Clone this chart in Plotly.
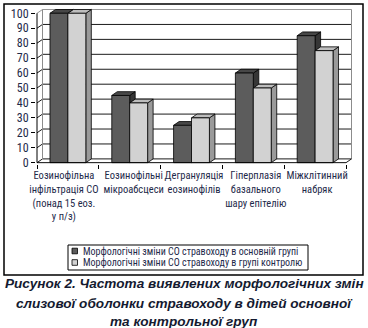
import plotly.graph_objects as go

# ---------------- data ----------------
categories = [
    "Еозинофільна<br>інфільтрація СО<br>(понад 15 еоз.<br>у п/з)",
    "Еозинофільні<br>мікроабсцеси",
    "Дегрануляція<br>еозинофілів",
    "Гіперплазія<br>базального<br>шару епітелію",
    "Міжклітинний<br>набряк",
]
main_group = [100, 45, 25, 60, 85]
control_group = [100, 40, 30, 50, 75]
series_names = [
    "Морфологічні зміни СО стравоходу в основній групі",
    "Морфологічні зміни СО стравоходу в групі контролю",
]
y_ticks = [0, 10, 20, 30, 40, 50, 60, 70, 80, 90, 100]
caption_lines = [
    "Рисунок 2. Частота виявлених морфологічних змін",
    "слизової оболонки стравоходу в дітей основної",
    "та контрольної груп",
]

# ---------------- geometry (pixels) ----------------
W, H = 368, 328
FX0, FX1 = 37.0, 346.0      # front plot x extent (category range -0.5..n-0.5)
FY0, FY1 = 162.7, 13.3      # front y for 0 and 100
DX_PX, DY_PX = 5.5, 3.8     # 3-D depth offset
n = len(categories)
pos = list(range(n))
ppx = (FX1 - FX0) / n
ppy = (FY0 - FY1) / 100.0
dx = DX_PX / ppx
dy = DY_PX / ppy

pad_l, pad_b = 1.0, 1.0
ext_r, ext_t = DX_PX + 2.0, DY_PX + 2.0
x_range = [-0.5 - pad_l / ppx, n - 0.5 + ext_r / ppx]
y_range = [-pad_b / ppy, 100 + ext_t / ppy]
x_dom = [(FX0 - pad_l) / W, (FX1 + ext_r) / W]
y_dom = [1 - (FY0 + pad_b) / H, 1 - (FY1 - ext_t) / H]
LABEL_SHIFT_PX = [-4.0, 4.0, 2.5, 2.5, 2.0]   # label placement nudges (layout)

BAR_W = 0.29
colors = {
    "front": ["#5c5c5c", "#d2d2d2"],
    "top": ["#474747", "#bdbdbd"],
    "side": ["#363636", "#9a9a9a"],
}
offsets = [-BAR_W, 0.0]
TXT = "#1e2a4a"
FONT = "Liberation Sans Narrow, Arial Narrow, Roboto Condensed, Liberation Sans, sans-serif"

fig = go.Figure()
for k, vals in enumerate([main_group, control_group]):
    fig.add_trace(go.Bar(
        x=pos, y=vals, name=series_names[k],
        width=BAR_W, offset=offsets[k],
        marker=dict(color=colors["front"][k], line=dict(color="black", width=0.8)),
        hoverinfo="skip", showlegend=False,
    ))

shapes = []
# back wall gridlines with diagonals from the front axis
for t in y_ticks:
    col = "#8c8c8c" if t == 100 else "black"
    shapes.append(dict(
        type="path", xref="x", yref="y", layer="below",
        path=f"M{-0.5},{t} L{-0.5 + dx},{t + dy} L{n - 0.5 + dx},{t + dy}",
        line=dict(color=col, width=0.9),
    ))
# back wall side edges
for xe in [-0.5 + dx, n - 0.5 + dx]:
    shapes.append(dict(type="line", xref="x", yref="y", layer="below",
                       x0=xe, x1=xe, y0=dy, y1=100 + dy,
                       line=dict(color="#8c8c8c", width=1)))
# floor right edge diagonal
shapes.append(dict(type="line", xref="x", yref="y", layer="below",
                   x0=n - 0.5, y0=0, x1=n - 0.5 + dx, y1=dy,
                   line=dict(color="black", width=0.9)))

# 3-D faces of bars
for k, vals in enumerate([main_group, control_group]):
    for c, v in zip(pos, vals):
        x0 = c + offsets[k]
        x1 = x0 + BAR_W
        shapes.append(dict(
            type="path", xref="x", yref="y", layer="between",
            path=f"M{x1},{0} L{x1},{v} L{x1 + dx},{v + dy} L{x1 + dx},{dy} Z",
            fillcolor=colors["side"][k], line=dict(color="black", width=0.8),
        ))
        shapes.append(dict(
            type="path", xref="x", yref="y", layer="between",
            path=f"M{x0},{v} L{x0 + dx},{v + dy} L{x1 + dx},{v + dy} L{x1},{v} Z",
            fillcolor=colors["top"][k], line=dict(color="black", width=0.8),
        ))

# front axis lines
shapes.append(dict(type="line", xref="x", yref="y", layer="above",
                   x0=-0.5, x1=-0.5, y0=0, y1=100, line=dict(color="black", width=1)))
shapes.append(dict(type="line", xref="x", yref="y", layer="above",
                   x0=-0.5, x1=n - 0.5, y0=0, y1=0, line=dict(color="black", width=1)))
# outer frame
shapes.append(dict(type="rect", xref="paper", yref="paper",
                   x0=4 / W, x1=363 / W, y0=1 - 275 / H, y1=1 - 4 / H,
                   line=dict(color="black", width=1.5), layer="above"))

annotations = []

# ---- legend (drawn as a box with keyed swatches) ----
LG_X0, LG_X1, LG_Y0, LG_Y1 = 68, 308, 245, 270
shapes.append(dict(type="rect", xref="paper", yref="paper",
                   x0=LG_X0 / W, x1=LG_X1 / W, y0=1 - LG_Y1 / H, y1=1 - LG_Y0 / H,
                   line=dict(color="black", width=1), fillcolor="white", layer="above"))
row_y = [251.0, 262.5]
for k, name in enumerate(series_names):
    ry = row_y[k]
    shapes.append(dict(type="rect", xref="paper", yref="paper",
                       x0=72 / W, x1=77.5 / W, y0=1 - (ry + 2.8) / H, y1=1 - (ry - 2.8) / H,
                       line=dict(color="black", width=0.8), fillcolor=colors["front"][k],
                       layer="above"))
    annotations.append(dict(
        text=name, xref="paper", yref="paper", x=80.5 / W, y=1 - ry / H,
        xanchor="left", yanchor="middle", showarrow=False,
        font=dict(family=FONT, size=10, color=TXT),
    ))

# ---- caption ----
cap_y = [283.5, 303, 321.5]
for line, py in zip(caption_lines, cap_y):
    annotations.append(dict(
        text=f"<b><i>{line}</i></b>", xref="paper", yref="paper",
        x=0.5, y=1 - py / H, xanchor="center", yanchor="middle", showarrow=False,
        font=dict(family="Liberation Sans, Arial, sans-serif", size=13.6, color="#141a30"),
    ))

fig.update_layout(
    width=W, height=H,
    margin=dict(l=0, r=0, t=0, b=0, autoexpand=False),
    paper_bgcolor="white", plot_bgcolor="rgba(0,0,0,0)",
    barmode="overlay", showlegend=False,
    shapes=shapes, annotations=annotations,
    xaxis=dict(
        domain=x_dom, range=x_range,
        tickvals=[p + s / ppx for p, s in zip(pos, LABEL_SHIFT_PX)],
        ticktext=categories,
        ticks="", showgrid=False, zeroline=False, showline=False,
        tickangle=0, automargin=False, ticklabelstandoff=4,
        tickfont=dict(family=FONT, size=10.5, color=TXT),
        minor=dict(tickvals=[p - 0.5 for p in pos] + [n - 0.5], ticks="outside",
                   ticklen=4, tickcolor="black", tickwidth=1, showgrid=False),
        fixedrange=True,
    ),
    yaxis=dict(
        domain=y_dom, range=y_range, tickvals=y_ticks,
        ticks="outside", ticklen=4, tickcolor="black",
        showgrid=False, zeroline=False, showline=False, automargin=False,
        tickfont=dict(family=FONT, size=12, color=TXT),
        fixedrange=True,
    ),
)

fig.write_html("out.html")
